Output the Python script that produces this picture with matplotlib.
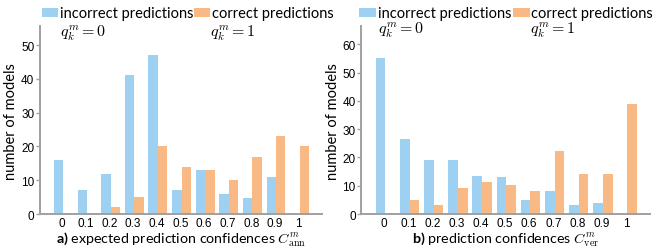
import matplotlib
matplotlib.use("Agg")
import matplotlib.pyplot as plt
from matplotlib.patches import Rectangle
import numpy as np

plt.rcParams['font.family'] = ['Lato', 'DejaVu Sans']
plt.rcParams['mathtext.fontset'] = 'custom'
plt.rcParams['mathtext.rm'] = 'cmr10'
plt.rcParams['mathtext.it'] = 'cmmi10'
plt.rcParams['mathtext.bf'] = 'Lato:bold'

# confidence bins
bins = [0, 0.1, 0.2, 0.3, 0.4, 0.5, 0.6, 0.7, 0.8, 0.9, 1]
bin_labels = ['0', '0.1', '0.2', '0.3', '0.4', '0.5', '0.6', '0.7', '0.8', '0.9', '1']

# a) expected prediction confidences
ann_incorrect = [16, 7, 12, 41, 47, 7, 13, 6, 4.7, 11, 0]
ann_correct = [0, 0, 2, 5, 20, 14, 13, 10, 17, 23, 20]

# b) prediction confidences
ver_incorrect = [55, 26.5, 19, 19, 13.5, 13, 5, 8, 3.2, 4, 0]
ver_correct = [0, 5, 3.2, 9.2, 11.3, 10.2, 8.2, 22.2, 14.2, 14.2, 39]

BLUE = '#9dd0f1'
ORANGE = '#f9b984'
GRAY = '#a0a0a0'

fig = plt.figure(figsize=(6.64, 2.51), dpi=100)
ax_a = fig.add_axes([0.060, 0.143, 0.425, 0.749])
ax_b = fig.add_axes([0.544, 0.143, 0.435, 0.749])


def draw_panel(ax, incorrect, correct, ymax, yticks, xlabel, legend_pos):
    x = np.array(bins)
    w = 0.04
    ax.bar(x - w / 2 + 0.005, incorrect, width=w, color=BLUE, linewidth=0)
    ax.bar(x + w / 2 + 0.005, correct, width=w, color=ORANGE, linewidth=0)
    ax.set_xlim(-0.095, 1.1)
    ax.set_ylim(0, ymax)
    ax.set_xticks(bins)
    ax.set_xticklabels(bin_labels, fontsize=8.5, family='Liberation Sans')
    ax.set_yticks(yticks)
    ax.set_yticklabels([str(t) for t in yticks], fontsize=8.5, family='Liberation Sans')
    ax.tick_params(axis='x', length=0, pad=2)
    ax.tick_params(axis='y', length=3, width=1, color=GRAY, pad=1)
    for s in ('top', 'right'):
        ax.spines[s].set_visible(False)
    for s in ('left', 'bottom'):
        ax.spines[s].set_color(GRAY)
        ax.spines[s].set_linewidth(1.4)
    ax.set_ylabel('number of models', fontsize=10.5, labelpad=2)
    ax.set_xlabel(xlabel, fontsize=10.3, labelpad=0)

    # hand-made legend above the bars
    (p1, t1, p2, t2, qy, ty) = legend_pos
    for px, col in ((p1, BLUE), (p2, ORANGE)):
        ax.add_patch(Rectangle((px, ty - 0.024), 0.057, 0.048, transform=ax.transAxes,
                               color=col, clip_on=False, linewidth=0))
    ax.text(t1, ty, 'incorrect predictions', transform=ax.transAxes,
            fontsize=10.5, va='center', ha='left')
    ax.text(t2, ty, 'correct predictions', transform=ax.transAxes,
            fontsize=10.5, va='center', ha='left')
    ax.text(t1, qy, '$q_k^m = 0$', transform=ax.transAxes, fontsize=11.5,
            va='center', ha='left')
    ax.text(p2 + 0.057, qy, '$q_k^m = 1$', transform=ax.transAxes, fontsize=11.5,
            va='center', ha='left')


draw_panel(ax_a, ann_incorrect, ann_correct, 55.6, [0, 10, 20, 30, 40, 50],
           r'$\mathbf{a)}$ expected prediction confidences $C^m_{\mathrm{ann}}$',
           (0.007, 0.071, 0.546, 0.610, 0.968, 1.072))
draw_panel(ax_b, ver_incorrect, ver_correct, 66.4, [0, 10, 20, 30, 40, 50, 60],
           r'$\mathbf{b)}$ prediction confidences $C^m_{\mathrm{ver}}$',
           (-0.007, 0.059, 0.526, 0.588, 0.985, 1.072))

fig.savefig('out.png', dpi=100)
